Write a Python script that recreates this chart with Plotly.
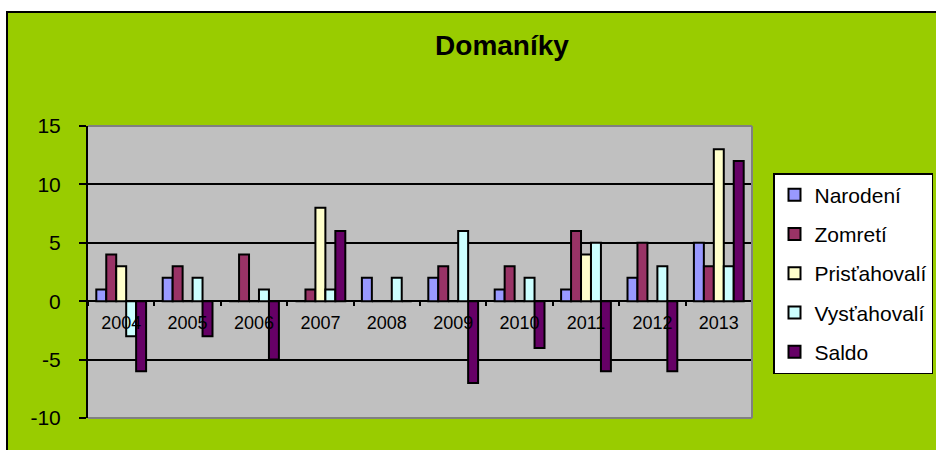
import plotly.graph_objects as go

years = ["2004", "2005", "2006", "2007", "2008", "2009", "2010", "2011", "2012", "2013"]
narodeni = [1, 2, 0, 0, 2, 2, 1, 1, 2, 5]
zomreti = [4, 3, 4, 1, 0, 3, 3, 6, 5, 3]
pristahovali = [3, 0, 0, 8, 0, 0, 0, 4, 0, 13]
vystahovali = [-3, 2, 1, 1, 2, 6, 2, 5, 3, 3]
saldo = [-6, -3, -5, 6, 0, -7, -4, -6, -6, 12]
y_ticks = [-10, -5, 0, 5, 10, 15]
y_tick_labels = ["-10", "-5", "0", "5", "10", "15"]

series = [
    ("Narodení", narodeni, "#9999FF"),
    ("Zomretí", zomreti, "#993366"),
    ("Prisťahovalí", pristahovali, "#FFFFCC"),
    ("Vysťahovalí", vystahovali, "#CCFFFF"),
    ("Saldo", saldo, "#660066"),
]

FONT = "Arial, 'Liberation Sans', sans-serif"

fig = go.Figure()
for name, vals, col in series:
    fig.add_trace(go.Bar(
        x=years, y=vals, name=name, legendgroup=name,
        marker=dict(color=col, line=dict(color="black", width=2)),
    ))

# invisible trace for the category axis crossing at zero
fig.add_trace(go.Scatter(x=years, y=[None] * len(years), xaxis="x2",
                         showlegend=False, hoverinfo="skip", mode="markers"))

L, R, T, B = 88, 936 - 752, 126, 450 - 418
W, H = 936, 450
pw, ph = W - L - R, H - T - B

def px(xp):
    return (xp - L) / pw

def py(yp):
    return (H - B - yp) / ph

shapes = [
    # white strips outside the chart area
    dict(type="rect", xref="paper", yref="paper", x0=px(-5), x1=px(950), y0=py(12), y1=py(-5),
         fillcolor="white", line=dict(width=0), layer="above"),
    dict(type="rect", xref="paper", yref="paper", x0=px(-5), x1=px(6), y0=py(-5), y1=py(460),
         fillcolor="white", line=dict(width=0), layer="above"),
    # outer border lines
    dict(type="line", xref="paper", yref="paper", x0=px(6), x1=px(950), y0=py(12), y1=py(12),
         line=dict(color="black", width=2), layer="above"),
    dict(type="line", xref="paper", yref="paper", x0=px(7), x1=px(7), y0=py(12), y1=py(460),
         line=dict(color="black", width=2), layer="above"),
    # plot area border (grey)
    dict(type="line", xref="paper", yref="paper", x0=0, x1=1, y0=1, y1=1,
         line=dict(color="#808080", width=2), layer="above"),
    dict(type="line", xref="paper", yref="paper", x0=1, x1=1, y0=0, y1=1,
         line=dict(color="#808080", width=2), layer="above"),
    dict(type="line", xref="paper", yref="paper", x0=0, x1=1, y0=0, y1=0,
         line=dict(color="#808080", width=2), layer="above"),
]

fig.update_layout(
    width=W, height=H,
    margin=dict(l=L, r=R, t=T, b=B, autoexpand=False),
    paper_bgcolor="#99CC00",
    plot_bgcolor="#C0C0C0",
    font=dict(family=FONT, color="black"),
    title=dict(text="<b>Domaníky</b>", x=502 / W, xanchor="center",
               y=1 - 45 / H, yanchor="middle",
               font=dict(family=FONT, size=28, color="black")),
    barmode="group",
    bargap=0.25,
    bargroupgap=0,
    showlegend=True,
    legend=dict(
        x=px(773), xanchor="left", y=py(173), yanchor="top",
        bgcolor="white", bordercolor="black", borderwidth=1.5,
        font=dict(family=FONT, size=21, color="black"),
        traceorder="grouped", tracegroupgap=9,
    ),
    xaxis=dict(
        type="category", range=[-0.5, 9.5],
        showticklabels=False, ticks="", showgrid=False, showline=False, zeroline=False,
    ),
    xaxis2=dict(
        type="category", range=[-0.5, 9.5], overlaying="x", anchor="free",
        position=10 / 25, side="bottom",
        ticks="outside", ticklen=4, tickwidth=1.5, tickcolor="black",
        tickson="boundaries", showline=False, showgrid=False, zeroline=False,
        tickfont=dict(family=FONT, size=18, color="black"),
        ticklabelstandoff=9,
    ),
    yaxis=dict(
        range=[-10, 15], tickvals=y_ticks, ticktext=y_tick_labels,
        showgrid=True, gridcolor="black", gridwidth=1.5,
        zeroline=True, zerolinecolor="black", zerolinewidth=2,
        showline=True, linecolor="black", linewidth=2,
        ticks="outside", ticklen=7, tickwidth=1.5, tickcolor="black",
        tickfont=dict(family=FONT, size=21, color="black"),
        ticklabelstandoff=14,
    ),
    shapes=shapes,
)

fig.write_html("out.html", config={"displayModeBar": False},
               post_script="document.body.style.margin='0px';document.body.style.overflow='hidden';")
